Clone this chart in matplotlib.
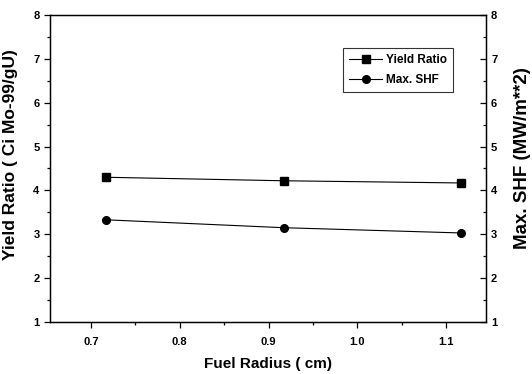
import matplotlib
matplotlib.use("Agg")
import matplotlib.pyplot as plt
from matplotlib.ticker import MultipleLocator

fuel_radius = [0.717, 0.917, 1.117]
yield_ratio = [4.30, 4.22, 4.17]
max_shf = [3.33, 3.15, 3.03]

plt.rcParams['font.family'] = ['Liberation Sans', 'DejaVu Sans']
plt.rcParams['font.weight'] = 'bold'

fig = plt.figure(figsize=(5.32, 3.74), dpi=100)
ax = fig.add_axes([0.094, 0.139, 0.820, 0.821])
ax.plot(fuel_radius, yield_ratio, color='black', lw=0.8, marker='s', ms=5.3, label='Yield Ratio')
ax.plot(fuel_radius, max_shf, color='black', lw=0.8, marker='o', ms=5.5, label='Max. SHF')
ax.set_xlim(0.654, 1.145)
ax.set_ylim(1, 8)
ax.xaxis.set_major_locator(MultipleLocator(0.1))
ax.xaxis.set_minor_locator(MultipleLocator(0.05))
ax.yaxis.set_major_locator(MultipleLocator(1))
ax.yaxis.set_minor_locator(MultipleLocator(0.5))
ax.xaxis.set_major_formatter(plt.FuncFormatter(lambda v, p: f"{v:.1f}"))
ax.tick_params(which='both', direction='out', labelsize=8, width=0.9)
ax.tick_params(which='major', length=4)
ax.tick_params(which='minor', length=2.5)
ax.tick_params(axis='x', which='major', pad=7)
ax.set_xlabel('Fuel Radius ( cm)', fontsize=11, fontweight='bold')
ax.xaxis.set_label_coords(0.5, -0.114)
ax.set_ylabel('Yield Ratio ( Ci Mo-99/gU)', fontsize=12.5, fontweight='bold')
ax.yaxis.set_label_coords(-0.073, 0.544)
for s in ax.spines.values():
    s.set_linewidth(1.0)

ax2 = ax.twinx()
ax2.set_ylim(1, 8)
ax2.yaxis.set_major_locator(MultipleLocator(1))
ax2.yaxis.set_minor_locator(MultipleLocator(0.5))
ax2.tick_params(which='both', direction='in', labelsize=8, width=0.9)
ax2.tick_params(which='major', length=4)
ax2.tick_params(which='minor', length=2.5)
ax2.set_ylabel('Max. SHF (MW/m**2)', fontsize=13.5, fontweight='bold')
ax2.yaxis.set_label_coords(1.064, 0.534)

leg = ax.legend(loc='upper left', bbox_to_anchor=(0.672, 0.8925), borderaxespad=0,
                fontsize=8.5, frameon=True, fancybox=False, edgecolor='black',
                handlelength=2.8, handletextpad=0.35, borderpad=0.5, labelspacing=0.7)
leg.get_frame().set_linewidth(0.8)

fig.savefig('out.png', dpi=100)
